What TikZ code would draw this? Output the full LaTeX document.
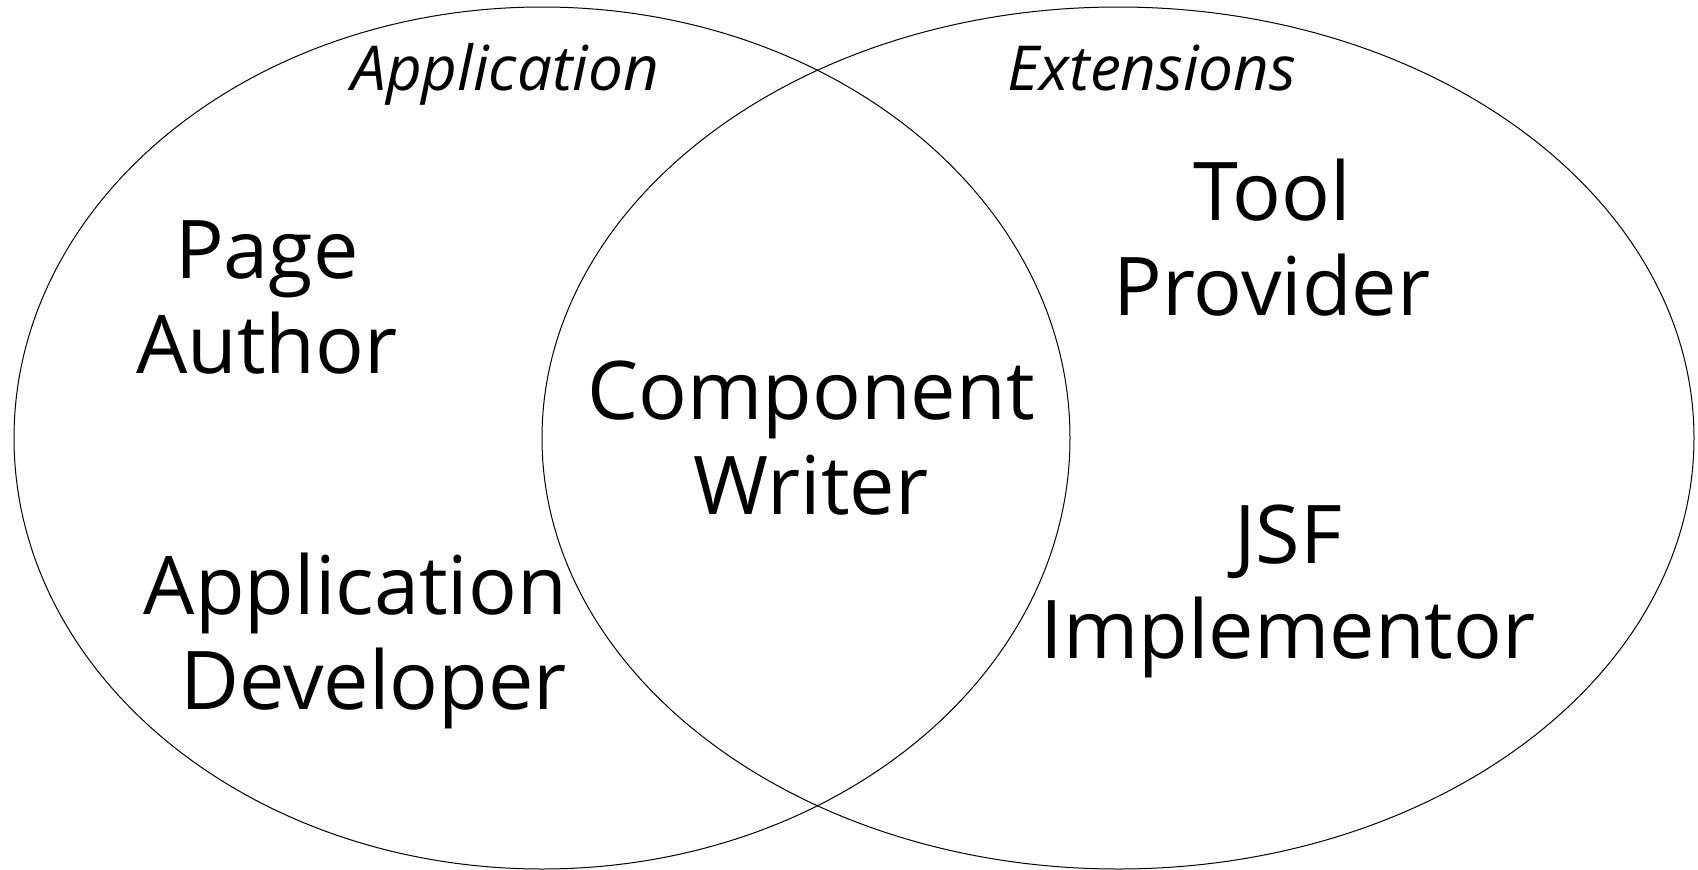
\documentclass[tikz,border=0pt]{standalone}
\usepackage{fontspec}
\setmainfont{Open Sans}
\begin{document}
\begin{tikzpicture}[x=1pt,y=-1pt,
  setline/.style={draw=black,line width=1pt},
  role/.style={inner sep=0pt,align=center,font=\fontsize{81}{95}\selectfont},
  settitle/.style={inner sep=0pt,font=\fontsize{62}{70}\selectfont\itshape}]
\useasboundingbox (0,0) rectangle (1698,870);

% the two overlapping sets
\draw[setline] (542,438) ellipse [x radius=528, y radius=431];
\draw[setline] (1118,438) ellipse [x radius=576, y radius=431];

% set titles
\node[settitle,anchor=base] (tapp) at (505,90) {Application};
\node[settitle,anchor=base] (text) at (1152,90) {Extensions};

% roles (base anchor sits on the second line)
\node[role,anchor=base] (page) at (267,373) {Page\\Author};
\node[role,anchor=base east,align=right] (appdev) at (567,709) {Application\\Developer};
\node[role,anchor=base] (comp) at (811,514) {Component\\Writer};
\node[role,anchor=base] (tool) at (1272,315) {Tool\\Provider};
\node[role,anchor=base] (jsf) at (1288,658) {JSF\\Implementor};
\end{tikzpicture}
\end{document}
